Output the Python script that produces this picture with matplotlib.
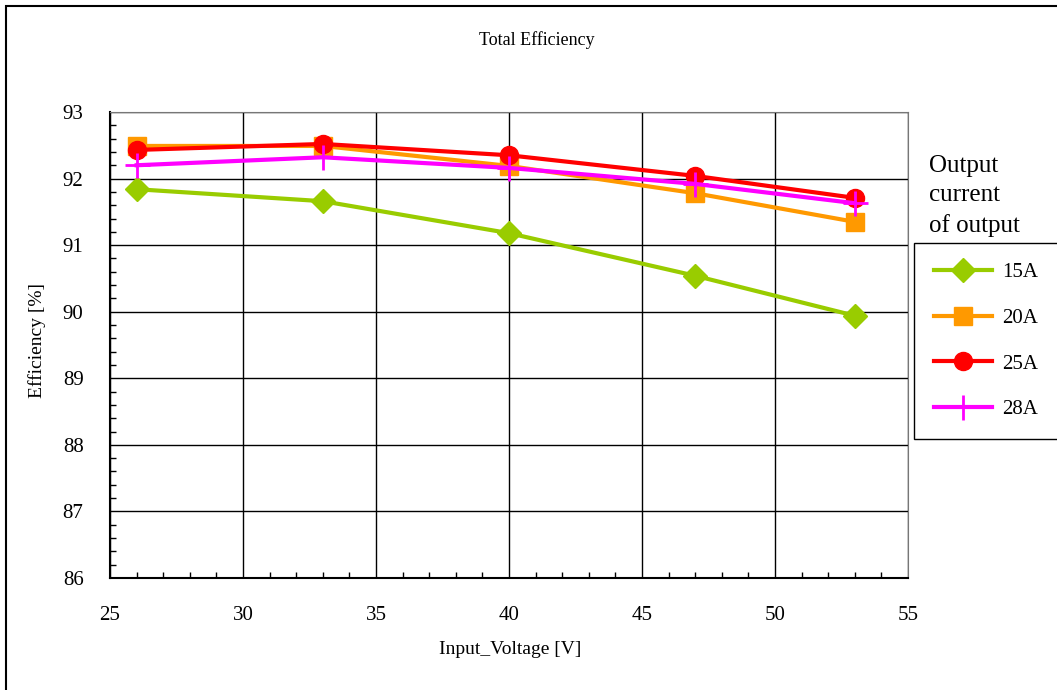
import matplotlib.pyplot as plt
from matplotlib.patches import Rectangle
from matplotlib.ticker import MultipleLocator

# datos
voltaje = [26, 33, 40, 47, 53]
ef_15A = [91.84, 91.66, 91.18, 90.54, 89.94]
ef_20A = [92.49, 92.49, 92.19, 91.78, 91.35]
ef_25A = [92.43, 92.52, 92.35, 92.04, 91.71]
ef_28A = [92.20, 92.32, 92.16, 91.92, 91.63]
etiquetas = ["15A", "20A", "25A", "28A"]

plt.rcParams['font.family'] = ['Liberation Serif', 'DejaVu Serif']

fig = plt.figure(figsize=(10.57, 6.90), dpi=100)
ax = fig.add_axes([110 / 1057, 1 - 578 / 690, 798 / 1057, 466 / 690])

ax.plot(voltaje, ef_15A, color="#99CC00", lw=3, marker="D", ms=12, label=etiquetas[0])
ax.plot(voltaje, ef_20A, color="#FF9900", lw=3, marker="s", ms=13, label=etiquetas[1])
ax.plot(voltaje, ef_25A, color="#FF0000", lw=3, marker="o", ms=13, label=etiquetas[2])
ax.plot(voltaje, ef_28A, color="#FF00FF", lw=3, marker="+", ms=18, mew=2, label=etiquetas[3])

ax.set_xlim(25, 55)
ax.set_ylim(86, 93)
ax.xaxis.set_major_locator(MultipleLocator(5))
ax.xaxis.set_minor_locator(MultipleLocator(1))
ax.yaxis.set_major_locator(MultipleLocator(1))
ax.yaxis.set_minor_locator(MultipleLocator(0.2))
ax.tick_params(which='major', length=0, labelsize=15)
ax.tick_params(axis='x', which='major', pad=20)
ax.tick_params(axis='y', which='major', pad=19)
ax.tick_params(which='minor', direction='in', length=4, width=1)
ax.grid(True, which='major', color='black', lw=1)
ax.set_axisbelow(True)
for s in ['top', 'right']:
    ax.spines[s].set_color('#777777')
for s in ['left', 'bottom']:
    ax.spines[s].set_linewidth(1.5)

fig.text(537 / 1057, 1 - 40 / 690, "Total Efficiency", ha='center', va='center', fontsize=13)
fig.text(510 / 1057, 1 - 650 / 690, "Input_Voltage [V]", ha='center', va='center', fontsize=14)
fig.text(37 / 1057, 1 - 340 / 690, "Efficiency [%]", ha='center', va='center',
         rotation=90, fontsize=14)

fig.text(929 / 1057, 1 - 196 / 690, "Output\ncurrent\nof output", ha='left', va='center',
         fontsize=18, linespacing=1.45)

leg = fig.legend(loc='upper left', bbox_to_anchor=(914 / 1057, 1 - 243 / 690),
                 fontsize=15, handlelength=2.8, handletextpad=0.5, labelspacing=1.25,
                 borderpad=0.95, borderaxespad=0, fancybox=False, edgecolor='black',
                 framealpha=1)
leg.get_frame().set_linewidth(1)

fig.patches.append(Rectangle((6 / 1057, -0.1), 1.2, 1.1 - 6 / 690, transform=fig.transFigure,
                             fill=False, edgecolor='black', lw=1.5))

fig.savefig("out.png", dpi=100)
